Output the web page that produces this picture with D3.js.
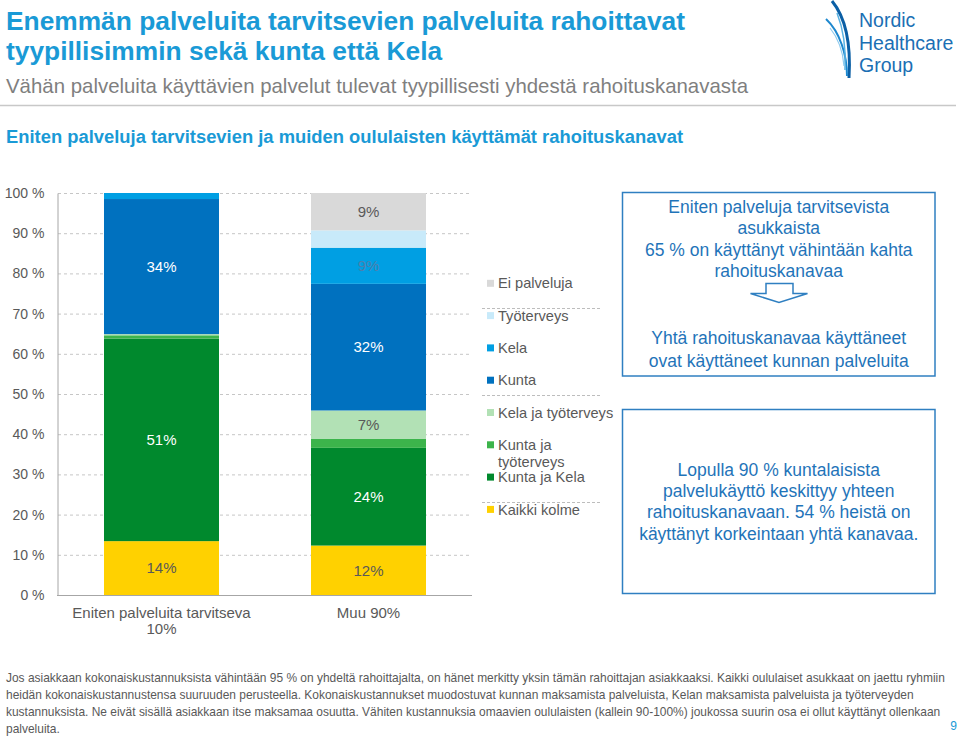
<!DOCTYPE html>
<html><head><meta charset="utf-8">
<script src="https://cdn.jsdelivr.net/npm/d3@7"></script>
<style>
html,body{margin:0;padding:0;background:#fff;}
svg{display:block;font-family:"Liberation Sans",Arial,sans-serif;}
</style></head>
<body>
<svg id="c" width="960" height="736"></svg>
<script>
// ---------- data ----------
const categories = ["Eniten palveluita tarvitseva\n10%", "Muu 90%"];
const seriesNames = ["Kaikki kolme", "Kunta ja Kela", "Kunta ja työterveys", "Kela ja työterveys", "Kunta", "Kela", "Työterveys", "Ei palveluja"];
const valuesTop10 = [13.4, 50.4, 0.8, 0.3, 33.6, 1.5, 0, 0];
const valuesMuu90 = [12.3, 24.3, 2.3, 7.0, 31.5, 9.0, 4.3, 9.3];
const labelsTop10 = ["14%", "51%", "", "", "34%", "", "", ""];
const labelsMuu90 = ["12%", "24%", "", "7%", "32%", "9%", "", "9%"];
const yTicks = [0, 10, 20, 30, 40, 50, 60, 70, 80, 90, 100];
const legendOrder = ["Ei palveluja", "Työterveys", "Kela", "Kunta", "Kela ja työterveys", "Kunta ja\ntyöterveys", "Kunta ja Kela", "Kaikki kolme"];

const colors = {
  "Kaikki kolme": "#ffd100",
  "Kunta ja Kela": "#00892d",
  "Kunta ja työterveys": "#3cb44b",
  "Kela ja työterveys": "#b2e1b5",
  "Kunta": "#0071bf",
  "Kela": "#009fe3",
  "Työterveys": "#c8eafa",
  "Ei palveluja": "#d9d9d9"
};
const labelColors = {
  "Kaikki kolme": "#595959", "Kunta ja Kela": "#ffffff", "Kunta": "#ffffff",
  "Kela ja työterveys": "#595959", "Kela": "#4d7fae", "Ei palveluja": "#595959",
  "Kunta ja työterveys": "#595959", "Työterveys": "#595959"
};

const svg = d3.select("#c");
const blue = "#1a9ad6";
const gray = "#595959";

// compress a text horizontally to a target width (keeps glyph height)
function squeeze(sel, w) {
  const len = sel.node().getComputedTextLength();
  sel.attr("textLength", w).attr("lengthAdjust", "spacingAndGlyphs");
  return w / len;
}
// scale font size so the text has a target width
function fit(sel, w) {
  const len = sel.node().getComputedTextLength();
  const fs = parseFloat(sel.attr("font-size")) * w / len;
  sel.attr("font-size", fs);
  return fs;
}

// ---------- header ----------
const t1 = svg.append("text").attr("x", 6).attr("y", 30).attr("font-size", 25).attr("font-weight", "bold").attr("fill", blue)
  .text("Enemmän palveluita tarvitsevien palveluita rahoittavat");
const tr = squeeze(t1, 679);
const t2 = svg.append("text").attr("x", 6).attr("y", 59.5).attr("font-size", 25).attr("font-weight", "bold").attr("fill", blue)
  .text("tyypillisimmin sekä kunta että Kela");
t2.attr("textLength", t2.node().getComputedTextLength() * tr).attr("lengthAdjust", "spacingAndGlyphs");
const st = svg.append("text").attr("x", 6).attr("y", 93).attr("font-size", 21).attr("fill", "#7f7f7f")
  .text("Vähän palveluita käyttävien palvelut tulevat tyypillisesti yhdestä rahoituskanavasta");
squeeze(st, 742);
svg.append("line").attr("x1", 0).attr("x2", 956).attr("y1", 105.5).attr("y2", 105.5).attr("stroke", "#c8c8c8").attr("stroke-width", 1.5);
const sh = svg.append("text").attr("x", 6).attr("y", 143).attr("font-size", 17.5).attr("font-weight", "bold").attr("fill", blue)
  .text("Eniten palveluja tarvitsevien ja muiden oululaisten käyttämät rahoituskanavat");
squeeze(sh, 677);

// logo
const logo = svg.append("g");
logo.append("path").attr("d", "M832,1 C846,18 851,45 849,78").attr("fill", "none").attr("stroke", "#0b5fa5").attr("stroke-width", 3);
logo.append("path").attr("d", "M826,19 C840,32 847,55 847,76").attr("fill", "none").attr("stroke", "#1d88cf").attr("stroke-width", 2);
logo.append("path").attr("d", "M837,13 C843,28 846,50 845,70").attr("fill", "none").attr("stroke", "#59b2e3").attr("stroke-width", 1.5);
logo.append("path").attr("d", "M830,28 C838,38 843,52 844,66").attr("fill", "none").attr("stroke", "#8fcbee").attr("stroke-width", 1.2);
const lh = logo.append("text").attr("x", 859).attr("y", 50).attr("font-size", 20).attr("fill", "#1b6fb4").text("Healthcare");
const lfs = Math.min(19.5, fit(lh, 95));
lh.attr("font-size", lfs);
logo.append("text").attr("x", 859).attr("y", 27).attr("font-size", lfs).attr("fill", "#1b6fb4").text("Nordic");
logo.append("text").attr("x", 859).attr("y", 72).attr("font-size", lfs).attr("fill", "#1b6fb4").text("Group");

// ---------- chart ----------
const y = d3.scaleLinear().domain([0, 100]).range([595, 193]);
const x = d3.scaleBand().domain(categories).range([58, 472]).paddingInner(0.4444).paddingOuter(0.2222);

// gridlines
svg.append("g").selectAll("line").data(yTicks.filter(d => d > 0)).join("line")
  .attr("x1", 58).attr("x2", 472).attr("y1", d => y(d) + 0.5).attr("y2", d => y(d) + 0.5)
  .attr("stroke", "#c6c6c6").attr("stroke-dasharray", "3,3");

// y axis
const yAxis = d3.axisLeft(y).tickValues(yTicks).tickSize(0).tickPadding(13).tickFormat(d => d + " %");
const ya = svg.append("g").attr("transform", "translate(57.5,0)").call(yAxis);
ya.select(".domain").attr("stroke", "#a6a6a6");
ya.selectAll("text").attr("font-size", 14).attr("fill", gray).attr("font-family", "Liberation Sans, Arial, sans-serif");

// stacked bars
const rows = [valuesTop10, valuesMuu90];
const labs = [labelsTop10, labelsMuu90];
const table = categories.map((c, i) => {
  const o = { cat: c };
  seriesNames.forEach((s, j) => o[s] = rows[i][j]);
  return o;
});
const stack = d3.stack().keys(seriesNames)(table);
const bars = svg.append("g");
stack.forEach(layer => {
  bars.append("g").attr("fill", colors[layer.key]).selectAll("rect").data(layer).join("rect")
    .attr("x", d => x(d.data.cat)).attr("width", x.bandwidth())
    .attr("y", d => y(d[1])).attr("height", d => y(d[0]) - y(d[1]));
});
// bar labels
stack.forEach((layer, si) => {
  layer.forEach((d, ci) => {
    const lab = labs[ci][si];
    if (!lab) return;
    svg.append("text").attr("x", x(d.data.cat) + x.bandwidth() / 2).attr("y", y((d[0] + d[1]) / 2))
      .attr("dy", "0.35em").attr("text-anchor", "middle").attr("font-size", 15)
      .attr("fill", labelColors[layer.key]).text(lab);
  });
});

// bottom axis line
svg.append("line").attr("x1", 57).attr("x2", 472).attr("y1", 595.5).attr("y2", 595.5).attr("stroke", "#a6a6a6");

// x labels
categories.forEach(c => {
  c.split("\n").forEach((ln, k) => {
    svg.append("text").attr("x", x(c) + x.bandwidth() / 2).attr("y", 613 + k * 16).attr("dy", "0.35em")
      .attr("text-anchor", "middle").attr("font-size", 15).attr("fill", gray).text(ln);
  });
});

// ---------- legend ----------
const ly = d3.scaleLinear().domain([0, 7]).range([283.3, 509.4]);
const keyOf = n => n.replace("\n", " ");
legendOrder.forEach((n, i) => {
  const yy = ly(i);
  svg.append("rect").attr("x", 487).attr("y", yy - 3.5).attr("width", 7).attr("height", 7).attr("fill", colors[keyOf(n)]);
  n.split("\n").forEach((ln, k) => {
    svg.append("text").attr("x", 498).attr("y", yy + k * 17).attr("dy", "0.35em").attr("font-size", 14.6).attr("fill", gray).text(ln);
  });
});
[308, 395, 502].forEach(v => {
  svg.append("line").attr("x1", 482).attr("x2", 601).attr("y1", v + 0.5).attr("y2", v + 0.5)
    .attr("stroke", "#bdbdbd").attr("stroke-dasharray", "3,2");
});

// ---------- text boxes ----------
const boxBlue = "#2f7fc1";
const txtBlue = "#1f74b9";
const cx = 778.75;
svg.append("rect").attr("x", 622.5).attr("y", 192.5).attr("width", 312.5).attr("height", 183.5)
  .attr("fill", "none").attr("stroke", boxBlue).attr("stroke-width", 1.5);
svg.append("rect").attr("x", 622.5).attr("y", 409.5).attr("width", 312.5).attr("height", 184)
  .attr("fill", "none").attr("stroke", boxBlue).attr("stroke-width", 1.5);
function lines(arr, ys) {
  arr.forEach((t, i) => svg.append("text").attr("x", cx).attr("y", ys[i]).attr("dy", "0.35em")
    .attr("text-anchor", "middle").attr("font-size", 17.5).attr("fill", txtBlue).text(t));
}
lines(["Eniten palveluja tarvitsevista", "asukkaista", "65 % on käyttänyt vähintään kahta", "rahoituskanavaa"], [207, 228.3, 249.7, 271]);
lines(["Yhtä rahoituskanavaa käyttäneet", "ovat käyttäneet kunnan palveluita"], [337.5, 361]);
lines(["Lopulla 90 % kuntalaisista", "palvelukäyttö keskittyy yhteen", "rahoituskanavaan. 54 % heistä on", "käyttänyt korkeintaan yhtä kanavaa."], [470, 491.3, 512.3, 533.5]);
// arrow
svg.append("path").attr("d", "M766,283.5 L793,283.5 L793,293.5 L807.5,293.5 L779,302.5 L750.5,293.5 L766,293.5 Z")
  .attr("fill", "none").attr("stroke", boxBlue).attr("stroke-width", 1.5).attr("stroke-linejoin", "miter");

// ---------- footer ----------
const foot = [
  "Jos asiakkaan kokonaiskustannuksista vähintään 95 % on yhdeltä rahoittajalta, on hänet merkitty yksin tämän rahoittajan asiakkaaksi. Kaikki oululaiset asukkaat on jaettu ryhmiin",
  "heidän kokonaiskustannustensa suuruuden perusteella. Kokonaiskustannukset muodostuvat kunnan maksamista palveluista, Kelan maksamista palveluista ja työterveyden",
  "kustannuksista. Ne eivät sisällä asiakkaan itse maksamaa osuutta. Vähiten kustannuksia omaavien oululaisten (kallein 90-100%) joukossa suurin osa ei ollut käyttänyt ollenkaan",
  "palveluita."
];
const f0 = svg.append("text").attr("x", 6).attr("y", 681.5).attr("font-size", 12).attr("fill", gray).text(foot[0]);
const ffs = fit(f0, 940);
foot.slice(1).forEach((t, i) => {
  svg.append("text").attr("x", 6).attr("y", 681.5 + (i + 1) * 17.3).attr("font-size", ffs).attr("fill", gray).text(t);
});
svg.append("text").attr("x", 957).attr("y", 730).attr("text-anchor", "end").attr("font-size", 12).attr("fill", blue).text("9");
</script>
</body></html>
